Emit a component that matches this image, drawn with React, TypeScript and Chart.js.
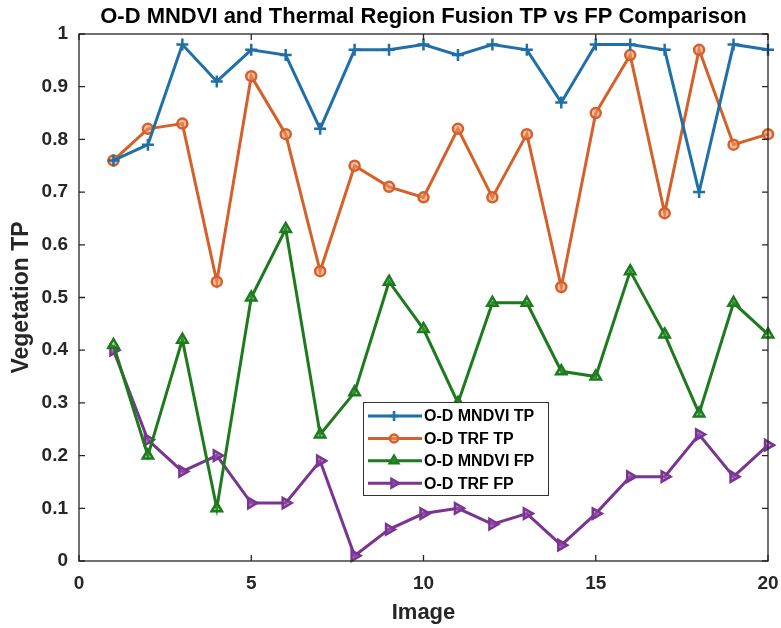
import React, { useEffect, useRef } from 'react';
import { Chart, registerables } from 'chart.js';
import { drawPoint } from 'chart.js/helpers';

Chart.register(...registerables);

// Image index along the x axis
const images = [1, 2, 3, 4, 5, 6, 7, 8, 9, 10, 11, 12, 13, 14, 15, 16, 17, 18, 19, 20];

// Series values per image
const mndviTP = [0.76, 0.79, 0.98, 0.91, 0.97, 0.96, 0.82, 0.97, 0.97, 0.98, 0.96, 0.98, 0.97, 0.87, 0.98, 0.98, 0.97, 0.70, 0.98, 0.97];
const trfTP = [0.76, 0.82, 0.83, 0.53, 0.92, 0.81, 0.55, 0.75, 0.71, 0.69, 0.82, 0.69, 0.81, 0.52, 0.85, 0.96, 0.66, 0.97, 0.79, 0.81];
const mndviFP = [0.41, 0.20, 0.42, 0.10, 0.50, 0.63, 0.24, 0.32, 0.53, 0.44, 0.30, 0.49, 0.49, 0.36, 0.35, 0.55, 0.43, 0.28, 0.49, 0.43];
const trfFP = [0.40, 0.23, 0.17, 0.20, 0.11, 0.11, 0.19, 0.01, 0.06, 0.09, 0.10, 0.07, 0.09, 0.03, 0.09, 0.16, 0.16, 0.24, 0.16, 0.22];

const seriesNames = ['O-D MNDVI TP', 'O-D TRF TP', 'O-D MNDVI FP', 'O-D TRF FP'];

const titleText = 'O-D MNDVI and Thermal Region Fusion TP vs FP Comparison';
const xTitle = 'Image';
const yTitle = 'Vegetation TP';

const FONT = '"Liberation Sans", Arial, Helvetica, sans-serif';
const AXIS_COLOR = '#262626';

const toPoints = (vals: number[]) => vals.map((v, i) => ({ x: images[i], y: v }));

// Frame, inward ticks, title and inset legend
const decorPlugin = {
  id: 'decor',
  afterDraw(chart: any) {
    const { ctx, chartArea, scales } = chart;
    const { left, right, top, bottom } = chartArea;
    ctx.save();

    // box around the plot
    ctx.strokeStyle = AXIS_COLOR;
    ctx.lineWidth = 1.3;
    ctx.strokeRect(left, top, right - left, bottom - top);

    // inward tick marks on all four sides
    const tl = 6;
    ctx.beginPath();
    scales.x.ticks.forEach((t: any) => {
      const px = scales.x.getPixelForValue(t.value);
      ctx.moveTo(px, bottom);
      ctx.lineTo(px, bottom - tl);
      ctx.moveTo(px, top);
      ctx.lineTo(px, top + tl);
    });
    scales.y.ticks.forEach((t: any) => {
      const py = scales.y.getPixelForValue(t.value);
      ctx.moveTo(left, py);
      ctx.lineTo(left + tl, py);
      ctx.moveTo(right, py);
      ctx.lineTo(right - tl, py);
    });
    ctx.stroke();

    // title centred over the plot
    ctx.fillStyle = '#000';
    ctx.font = `bold 22px ${FONT}`;
    ctx.textAlign = 'center';
    ctx.textBaseline = 'middle';
    ctx.fillText(titleText, (left + right) / 2, 17);

    // legend box
    const lx = 363, ly = 402, lw = 185, lh = 93;
    ctx.fillStyle = '#fff';
    ctx.fillRect(lx, ly, lw, lh);
    ctx.strokeStyle = '#333';
    ctx.lineWidth = 1;
    ctx.strokeRect(lx + 0.5, ly + 0.5, lw, lh);
    ctx.font = `bold 16px ${FONT}`;
    ctx.textAlign = 'left';
    chart.data.datasets.forEach((ds: any, i: number) => {
      const y = ly + 14 + i * 22.4;
      ctx.strokeStyle = ds.borderColor;
      ctx.lineWidth = ds.borderWidth;
      ctx.beginPath();
      ctx.moveTo(lx + 5, y);
      ctx.lineTo(lx + 59, y);
      ctx.stroke();
      ctx.fillStyle = ds.pointBackgroundColor;
      ctx.strokeStyle = ds.borderColor;
      ctx.lineWidth = ds.pointBorderWidth;
      drawPoint(ctx, { pointStyle: ds.pointStyle, rotation: ds.pointRotation || 0, radius: ds.pointRadius - 1, borderWidth: ds.pointBorderWidth }, lx + 31, y);
      ctx.fillStyle = '#000';
      ctx.fillText(ds.label, lx + 61, y + 1);
    });

    ctx.restore();
  },
};

function makeDataset(label: string, vals: number[], color: string, fill: string, style: string, radius: number, rotation = 0) {
  return {
    label,
    data: toPoints(vals),
    borderColor: color,
    backgroundColor: color,
    borderWidth: 3,
    pointStyle: style,
    pointRadius: radius,
    pointRotation: rotation,
    pointBorderWidth: 2.5,
    pointBorderColor: color,
    pointBackgroundColor: fill,
    tension: 0,
    clip: 12,
  };
}

export default function App() {
  const canvasRef = useRef<HTMLCanvasElement>(null);

  useEffect(() => {
    const canvas = canvasRef.current;
    if (!canvas) return;
    const chart = new Chart(canvas, {
      type: 'line',
      data: {
        datasets: [
          makeDataset(seriesNames[0], mndviTP, '#1f6fa9', '#1f6fa9', 'cross', 6),
          makeDataset(seriesNames[1], trfTP, '#d5602a', 'rgba(240,150,100,0.6)', 'circle', 5),
          makeDataset(seriesNames[2], mndviFP, '#1d7a1d', 'rgba(60,170,60,0.45)', 'triangle', 6),
          makeDataset(seriesNames[3], trfFP, '#7a3590', 'rgba(160,80,190,0.6)', 'triangle', 6, 90),
        ],
      },
      options: {
        responsive: false,
        animation: false,
        maintainAspectRatio: false,
        layout: { padding: { top: 34, right: 13, left: 0, bottom: 0 } },
        plugins: {
          legend: { display: false },
          title: { display: false },
          tooltip: { enabled: false },
        },
        scales: {
          x: {
            type: 'linear',
            min: 0,
            max: 20,
            grid: { display: false, drawTicks: false },
            border: { display: false },
            ticks: {
              stepSize: 5,
              padding: 11,
              color: '#262626',
              font: { family: FONT, size: 19, weight: 'bold' },
            },
            title: {
              display: true,
              text: xTitle,
              color: '#262626',
              font: { family: FONT, size: 22, weight: 'bold' },
              padding: { top: 0, bottom: 2 },
            },
            afterFit: (s: any) => {
              s.height = 67;
              s.paddingLeft = 0;
              s.paddingRight = 0;
            },
          },
          y: {
            type: 'linear',
            min: 0,
            max: 1,
            grid: { display: false, drawTicks: false },
            border: { display: false },
            ticks: {
              stepSize: 0.1,
              padding: 11,
              color: '#262626',
              font: { family: FONT, size: 19, weight: 'bold' },
              callback: (v: any) => String(Math.round(Number(v) * 10) / 10),
            },
            title: {
              display: true,
              text: yTitle,
              color: '#262626',
              font: { family: FONT, size: 23, weight: 'bold' },
              padding: { top: 8, bottom: 0 },
            },
            afterFit: (s: any) => {
              s.width = 79;
              s.paddingTop = 0;
              s.paddingBottom = 0;
            },
          },
        },
      },
      plugins: [decorPlugin],
    });
    return () => chart.destroy();
  }, []);

  return (
    <div style={{ position: 'fixed', left: 0, top: 0, width: 781, height: 628, background: '#fff' }}>
      <canvas ref={canvasRef} width={781} height={628} style={{ display: 'block', width: 781, height: 628 }} />
    </div>
  );
}
